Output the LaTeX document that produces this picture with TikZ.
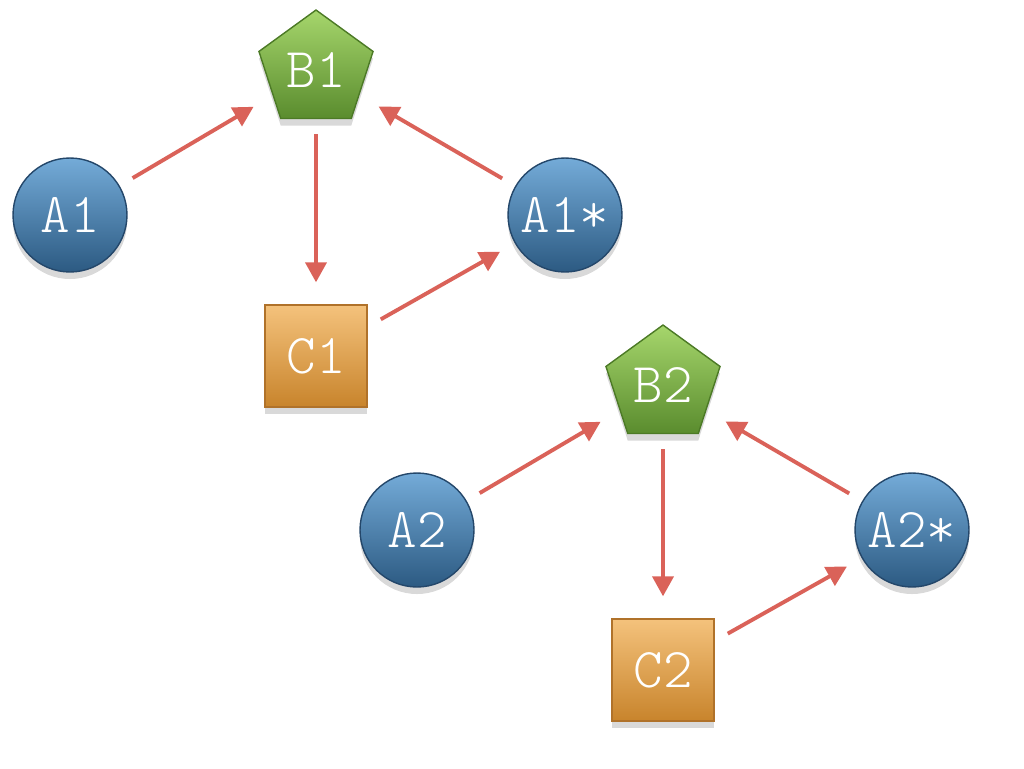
\documentclass[tikz,border=0pt]{standalone}
\usepackage{fontspec}
\setmonofont{Latin Modern Mono Light}
\usetikzlibrary{shapes.geometric,arrows.meta,shadows}

\definecolor{atop}{HTML}{74ABD8}
\definecolor{abot}{HTML}{2C5A82}
\definecolor{aline}{HTML}{24476A}
\definecolor{btop}{HTML}{A6D66C}
\definecolor{bbot}{HTML}{5A8C2E}
\definecolor{bline}{HTML}{4C7A26}
\definecolor{ctop}{HTML}{F4C27C}
\definecolor{cbot}{HTML}{C8842C}
\definecolor{cline}{HTML}{B0722A}
\definecolor{ared}{HTML}{DA6259}

\begin{document}
\begin{tikzpicture}[x=0.02cm,y=-0.02cm,
  lbl/.style={text=white,font=\ttfamily\fontsize{32}{32}\selectfont},
  shade/.style={drop shadow={shadow xshift=0pt,shadow yshift=-4pt,opacity=0.3}},
  anode/.style={circle,draw=aline,line width=0.8pt,minimum size=2.28cm,inner sep=0pt,
    top color=atop,bottom color=abot,shade,lbl},
  bnode/.style={regular polygon,regular polygon sides=5,draw=bline,line width=0.8pt,
    minimum size=2.4cm,inner sep=0pt,top color=btop,bottom color=bbot,shade,lbl},
  cnode/.style={rectangle,draw=cline,line width=0.8pt,minimum size=2.04cm,inner sep=0pt,
    top color=ctop,bottom color=cbot,shade,lbl},
  flow/.style={-{Triangle[length=0.4cm,width=0.42cm]},line width=2.2pt,draw=ared,
    shorten <=0.3cm,shorten >=0.44cm},
  flowc/.style={flow,shorten >=0.34cm}]
  \useasboundingbox (0,0) rectangle (1024,768);

  % first group
  \node[anode] (A1) at (70,215) {A1};
  \node[bnode] (B1) at (316,70) {B1};
  \node[anode] (A1s) at (565,215) {A1*};
  \node[cnode] (C1) at (316,356) {C1};

  % second group
  \node[anode] (A2) at (417,530) {A2};
  \node[bnode] (B2) at (663,385) {B2};
  \node[anode] (A2s) at (912,530) {A2*};
  \node[cnode] (C2) at (663,670) {C2};

  % arrows
  \draw[flow] (A1) -- (B1);
  \draw[flow] (B1) -- (C1);
  \draw[flowc] (C1) -- (A1s);
  \draw[flow] (A1s) -- (B1);
  \draw[flow] (A2) -- (B2);
  \draw[flow] (B2) -- (C2);
  \draw[flowc] (C2) -- (A2s);
  \draw[flow] (A2s) -- (B2);
\end{tikzpicture}
\end{document}
